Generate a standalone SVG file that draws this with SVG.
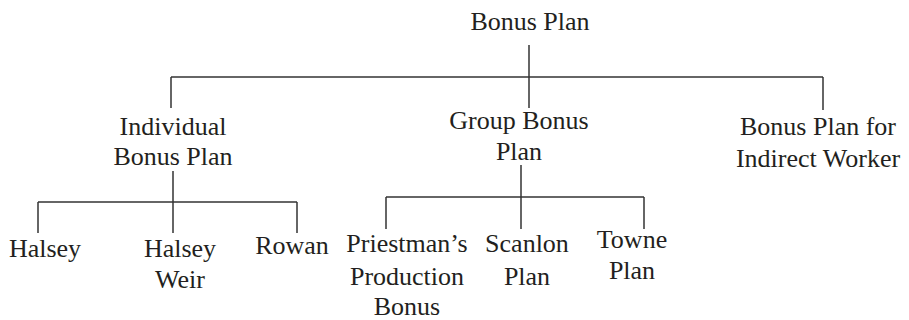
<svg xmlns="http://www.w3.org/2000/svg" width="909" height="320" viewBox="0 0 909 320">
<style>
.t text{font-size:26px;fill:#231f20;text-anchor:middle}
.c line{stroke:#333;stroke-width:1.5;fill:none}
</style>
<rect width="909" height="320" fill="#fff"/>
<g class="c" id="connectors">
<line x1="529" y1="45" x2="529" y2="108"/>
<line x1="171" y1="77" x2="823" y2="77"/>
<line x1="171" y1="77" x2="171" y2="108"/>
<line x1="823" y1="77" x2="823" y2="110"/>
<line x1="173" y1="171" x2="173" y2="233"/>
<line x1="38" y1="202" x2="297" y2="202"/>
<line x1="38" y1="202" x2="38" y2="233"/>
<line x1="297" y1="202" x2="297" y2="233"/>
<line x1="521" y1="165" x2="521" y2="229"/>
<line x1="386" y1="197" x2="644" y2="197"/>
<line x1="386" y1="197" x2="386" y2="229"/>
<line x1="644" y1="197" x2="644" y2="229"/>
</g>
<g class="t" font-family="Liberation Serif, serif">
<g id="root"><text x="530" y="30">Bonus Plan</text></g>
<g id="individual"><text x="173" y="135">Individual</text><text x="173" y="165">Bonus Plan</text></g>
<g id="group"><text x="519" y="129">Group Bonus</text><text x="519" y="160">Plan</text></g>
<g id="indirect"><text x="818" y="135">Bonus Plan for</text><text x="818" y="167">Indirect Worker</text></g>
<g id="halsey"><text x="45" y="257">Halsey</text></g>
<g id="halseyweir"><text x="180" y="257">Halsey</text><text x="180" y="288">Weir</text></g>
<g id="rowan"><text x="292" y="254">Rowan</text></g>
<g id="priestman"><text x="407" y="252">Priestman’s</text><text x="407" y="285">Production</text><text x="407" y="315">Bonus</text></g>
<g id="scanlon"><text x="527" y="252">Scanlon</text><text x="527" y="285">Plan</text></g>
<g id="towne"><text x="632" y="248">Towne</text><text x="632" y="279">Plan</text></g>
</g>
</svg>
